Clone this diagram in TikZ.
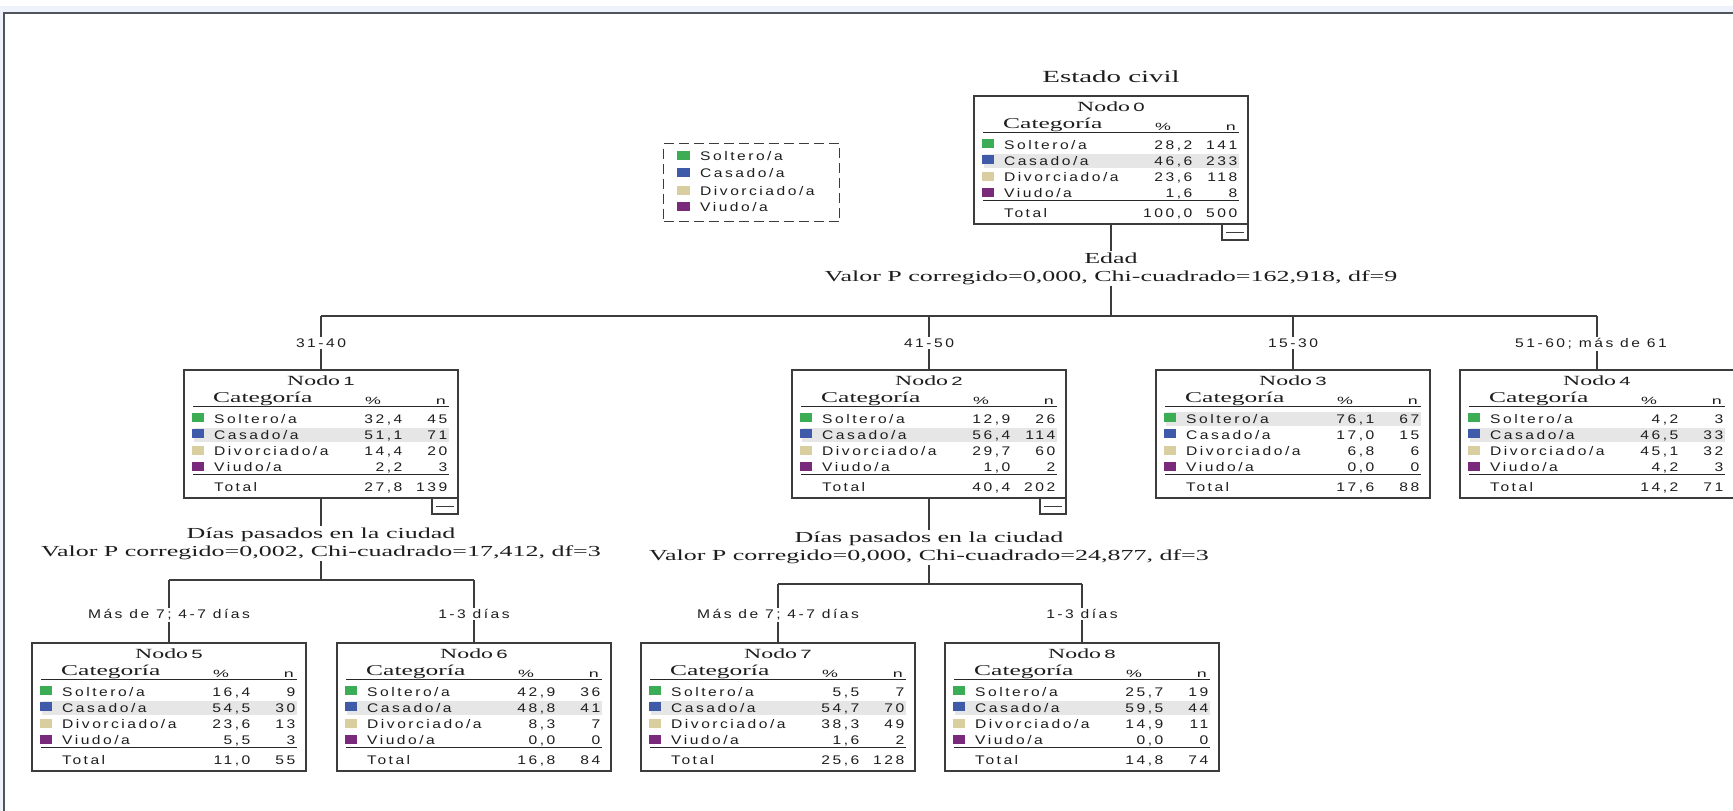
\documentclass[tikz,border=0pt]{standalone}
\usepackage{fontspec}
\newfontfamily\sansf{Liberation Sans}[FakeStretch=1.25,LetterSpace=20]
\newfontfamily\sanshd{Liberation Sans}[FakeStretch=1.7]
\newfontfamily\serf{Liberation Serif}[FakeStretch=1.7]
\definecolor{colS}{RGB}{60,172,85}
\definecolor{colC}{RGB}{62,90,168}
\definecolor{colD}{RGB}{216,206,160}
\definecolor{colV}{RGB}{122,42,122}
\definecolor{hlc}{RGB}{230,230,230}
\definecolor{boxc}{RGB}{60,60,60}
\definecolor{rulec}{RGB}{40,40,40}
\definecolor{txtc}{RGB}{30,30,30}
\definecolor{frbg}{RGB}{238,242,250}
\definecolor{frline}{RGB}{80,84,92}
\def\rA{48.5}\def\rB{64.8}\def\rC{81}\def\rD{97.3}\def\rT{116.5}
\tikzset{
  rowtxt/.style={inner sep=0pt, text=txtc, font=\sansf\fontsize{12.5}{14}\selectfont, anchor=base west},
  numtxt/.style={inner sep=0pt, text=txtc, font=\sansf\fontsize{12.5}{14}\selectfont, anchor=base east},
  hdr/.style={inner sep=0pt, text=txtc, font=\sanshd\fontsize{10.5}{12}\selectfont, anchor=base},
  boxline/.style={draw=boxc, line width=1.5pt},
  conn/.style={draw=boxc, line width=1.5pt},
  lbl/.style={inner sep=1pt, text=txtc, font=\serf\fontsize{15.3}{17}\selectfont, anchor=base},
  brlbl/.style={inner sep=1.5pt, text=txtc, font=\sansf\fontsize{12.5}{14}\selectfont, anchor=base}
}
% #1 number, #2 highlight row centre, #3 node name
\newcommand\treebox[3]{%
  \fill[hlc] (10,{#2-7}) rectangle (265,{#2+7.5});
  \node[boxline, anchor=north west, minimum width=274pt, minimum height=128pt, inner sep=0pt, outer sep=0pt] (#3) at (0,0) {};
  \node[inner sep=0pt, anchor=base, text=txtc] at (137,15) {{\serf\fontsize{14}{16}\selectfont Nodo} {\sanshd\fontsize{12}{14}\selectfont #1}};
  \node[inner sep=0pt, anchor=base west, text=txtc, font=\serf\fontsize{15}{17}\selectfont] at (29,32.5) {Categoría};
  \node[hdr] at (189,34) {\%};
  \node[hdr, anchor=base east] at (262,34) {n};
  \draw[rulec, line width=1.3pt] (9,36.5) -- (265,36.5);
  \draw[rulec, line width=1.3pt] (9,104.5) -- (265,104.5);
  \fill[colS] (8,{\rA-5.5}) rectangle (20,{\rA+3.5});
  \fill[colC] (8,{\rB-5.5}) rectangle (20,{\rB+3.5});
  \fill[colD] (8,{\rC-5.5}) rectangle (20,{\rC+3.5});
  \fill[colV] (8,{\rD-5.5}) rectangle (20,{\rD+3.5});
  \node[rowtxt] at (30,{\rA+4.5}) {Soltero/a};
  \node[rowtxt] at (30,{\rB+4.5}) {Casado/a};
  \node[rowtxt] at (30,{\rC+4.5}) {Divorciado/a};
  \node[rowtxt] at (30,{\rD+4.5}) {Viudo/a};
  \node[rowtxt] at (30,{\rT+4.5}) {Total};
}
\newcommand\treevals[8]{%
  \node[numtxt] at (218.5,{\rA+4.5}) {#1};
  \node[numtxt] at (263.5,{\rA+4.5}) {#2};
  \node[numtxt] at (218.5,{\rB+4.5}) {#3};
  \node[numtxt] at (263.5,{\rB+4.5}) {#4};
  \node[numtxt] at (218.5,{\rC+4.5}) {#5};
  \node[numtxt] at (263.5,{\rC+4.5}) {#6};
  \node[numtxt] at (218.5,{\rD+4.5}) {#7};
  \node[numtxt] at (263.5,{\rD+4.5}) {#8};
}
\newcommand\treetot[2]{%
  \node[numtxt] at (218.5,{\rT+4.5}) {#1};
  \node[numtxt] at (263.5,{\rT+4.5}) {#2};
}
\newcommand\minusbox{%
  \draw[boxline] (248,128) rectangle (274,144);
  \draw[boxc, line width=1.2pt] (252,136.5) -- (270,136.5);
}
\begin{document}
\begin{tikzpicture}[x=1pt,y=-1pt]
\useasboundingbox (0,0) rectangle (1733,811);
\fill[white] (0,0) rectangle (1733,811);
% frame
\fill[frbg] (0,6) rectangle (1733,11.5);
\fill[frbg] (0,6) rectangle (3.3,811);
\draw[frline, line width=1.5pt] (4,811) -- (4,12.8) -- (1733,12.8);

% title
\node[inner sep=1pt, anchor=base, text=txtc, font=\serf\fontsize{17}{19}\selectfont] (title) at (1111,82.5) {Estado civil};

% legend
\node[draw=boxc, line width=1.3pt, dash pattern=on 10pt off 5pt, anchor=north west, minimum width=176pt, minimum height=78pt, inner sep=0pt] (leg) at (663,143) {};
\fill[colS] (677,151) rectangle (690,160);
\fill[colC] (677,168) rectangle (690,177);
\fill[colD] (677,185.5) rectangle (690,194.5);
\fill[colV] (677,202) rectangle (690,211);
\node[rowtxt] (lg1) at (700,160.5) {Soltero/a};
\node[rowtxt] (lg2) at (700,177.5) {Casado/a};
\node[rowtxt] (lg3) at (700,195) {Divorciado/a};
\node[rowtxt] (lg4) at (700,211.5) {Viudo/a};

% node 0
\begin{scope}[shift={(974,96)}]
  \treebox{0}{\rB}{n0}
  \treevals{28,2}{141}{46,6}{233}{23,6}{118}{1,6}{8}
  \treetot{100,0}{500}
  \minusbox
\end{scope}
% level 1
\begin{scope}[shift={(184,370)}]
  \treebox{1}{\rB}{n1}
  \treevals{32,4}{45}{51,1}{71}{14,4}{20}{2,2}{3}
  \treetot{27,8}{139}
  \minusbox
\end{scope}
\begin{scope}[shift={(792,370)}]
  \treebox{2}{\rB}{n2}
  \treevals{12,9}{26}{56,4}{114}{29,7}{60}{1,0}{2}
  \treetot{40,4}{202}
  \minusbox
\end{scope}
\begin{scope}[shift={(1156,370)}]
  \treebox{3}{\rA}{n3}
  \treevals{76,1}{67}{17,0}{15}{6,8}{6}{0,0}{0}
  \treetot{17,6}{88}
\end{scope}
\begin{scope}[shift={(1460,370)}]
  \treebox{4}{\rB}{n4}
  \treevals{4,2}{3}{46,5}{33}{45,1}{32}{4,2}{3}
  \treetot{14,2}{71}
\end{scope}
% level 2
\begin{scope}[shift={(32,643)}]
  \treebox{5}{\rB}{n5}
  \treevals{16,4}{9}{54,5}{30}{23,6}{13}{5,5}{3}
  \treetot{11,0}{55}
\end{scope}
\begin{scope}[shift={(337,643)}]
  \treebox{6}{\rB}{n6}
  \treevals{42,9}{36}{48,8}{41}{8,3}{7}{0,0}{0}
  \treetot{16,8}{84}
\end{scope}
\begin{scope}[shift={(641,643)}]
  \treebox{7}{\rB}{n7}
  \treevals{5,5}{7}{54,7}{70}{38,3}{49}{1,6}{2}
  \treetot{25,6}{128}
\end{scope}
\begin{scope}[shift={(945,643)}]
  \treebox{8}{\rB}{n8}
  \treevals{25,7}{19}{59,5}{44}{14,9}{11}{0,0}{0}
  \treetot{14,8}{74}
\end{scope}

% split of node 0
\node[lbl] (e0a) at (1111,263) {Edad};
\node[lbl] (e0b) at (1111,281) {Valor P corregido=0,000, Chi-cuadrado=162,918, df=9};
\coordinate (j0) at (1111,316);
\draw[conn] (n0.south) -- (e0a.north);
\draw[conn] (e0b.south) -- (j0);
\draw[conn] (n1.north |- j0) -- (n4.north |- j0);
\node[brlbl] (b1) at (321,347.5) {31-40};
\node[brlbl] (b2) at (929,347.5) {41-50};
\node[brlbl] (b3) at (1293,347.5) {15-30};
\node[brlbl] (b4) at (1591,347.5) {51-60; más de 61};
\draw[conn] (n1.north |- j0) -- (b1.north);
\draw[conn] (b1.south) -- (n1.north);
\draw[conn] (n2.north |- j0) -- (b2.north);
\draw[conn] (b2.south) -- (n2.north);
\draw[conn] (n3.north |- j0) -- (b3.north);
\draw[conn] (b3.south) -- (n3.north);
\draw[conn] (n4.north |- j0) -- (n4.north |- b4.north);
\draw[conn] (n4.north |- b4.south) -- (n4.north);

% split of node 1
\node[lbl] (e1a) at (321,538) {Días pasados en la ciudad};
\node[lbl] (e1b) at (321,556.5) {Valor P corregido=0,002, Chi-cuadrado=17,412, df=3};
\coordinate (j1) at (321,580);
\draw[conn] (n1.south) -- (e1a.north);
\draw[conn] (e1b.south) -- (j1);
\draw[conn] (n5.north |- j1) -- (n6.north |- j1);
\node[brlbl] (b5) at (169,618.5) {Más de 7; 4-7 días};
\node[brlbl] (b6) at (474,618.5) {1-3 días};
\draw[conn] (n5.north |- j1) -- (b5.north);
\draw[conn] (b5.south) -- (n5.north);
\draw[conn] (n6.north |- j1) -- (b6.north);
\draw[conn] (b6.south) -- (n6.north);

% split of node 2
\node[lbl] (e2a) at (929,542) {Días pasados en la ciudad};
\node[lbl] (e2b) at (929,560.5) {Valor P corregido=0,000, Chi-cuadrado=24,877, df=3};
\coordinate (j2) at (929,584);
\draw[conn] (n2.south) -- (e2a.north);
\draw[conn] (e2b.south) -- (j2);
\draw[conn] (n7.north |- j2) -- (n8.north |- j2);
\node[brlbl] (b7) at (778,618.5) {Más de 7; 4-7 días};
\node[brlbl] (b8) at (1082,618.5) {1-3 días};
\draw[conn] (n7.north |- j2) -- (b7.north);
\draw[conn] (b7.south) -- (n7.north);
\draw[conn] (n8.north |- j2) -- (b8.north);
\draw[conn] (b8.south) -- (n8.north);
\end{tikzpicture}
\end{document}
